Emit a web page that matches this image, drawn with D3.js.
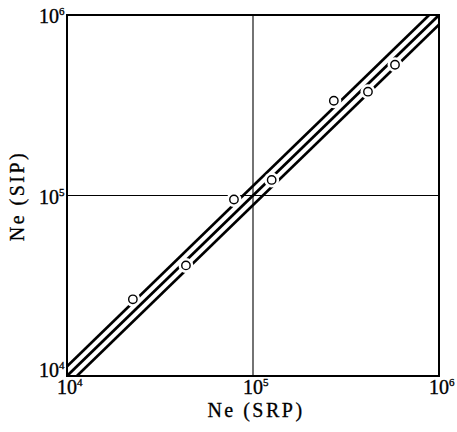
<!DOCTYPE html>
<html><head><meta charset="utf-8">
<script src="https://cdn.jsdelivr.net/npm/d3@7"></script>
<style>body{margin:0;background:#fff}svg{display:block}text{font-family:"Liberation Serif","Times New Roman",serif;fill:#000}</style>
</head><body>
<script>
// Data
const srp = [22600, 43600, 79000, 126000, 272000, 415000, 580000];
const sip = [26600, 41000, 95000, 122000, 335000, 376000, 530000];
const bandFactors = [1.13, 1, 1/1.13];
const tickValues = [1e4, 1e5, 1e6];
const tickExps = ["4", "5", "6"];
const xLabel = "Ne (SRP)";
const yLabel = "Ne (SIP)";

const W = 457, H = 432;
const m = {left: 67, right: 18, top: 15, bottom: 56};
const svg = d3.select("body").append("svg").attr("width", W).attr("height", H);
const x = d3.scaleLog().domain([1e4, 1e6]).range([m.left, W - m.right]);
const y = d3.scaleLog().domain([1e4, 1e6]).range([H - m.bottom, m.top]);

svg.append("clipPath").attr("id", "clip").append("rect")
  .attr("x", m.left).attr("y", m.top).attr("width", x.range()[1] - m.left).attr("height", y.range()[0] - m.top);

const g = svg.append("g");
// gridlines at 1e5
g.append("line").attr("x1", x(1e5)).attr("x2", x(1e5)).attr("y1", y(1e4)).attr("y2", y(1e6)).attr("stroke", "#000").attr("stroke-width", 1.1);
g.append("line").attr("x1", x(1e4)).attr("x2", x(1e6)).attr("y1", y(1e5)).attr("y2", y(1e5)).attr("stroke", "#000").attr("stroke-width", 1.1);

// band lines
const line = d3.line().x(d => x(d[0])).y(d => y(d[1]));
const lg = g.append("g").attr("clip-path", "url(#clip)");
bandFactors.forEach(f => {
  lg.append("path").datum([[5e3, 5e3 * f], [2e6, 2e6 * f]])
    .attr("d", line).attr("fill", "none").attr("stroke", "#000").attr("stroke-width", 2.7);
});

// halos + points
const pts = srp.map((v, i) => [v, sip[i]]);
g.selectAll(".halo").data(pts).join("circle").attr("class", "halo")
  .attr("cx", d => x(d[0])).attr("cy", d => y(d[1])).attr("r", 7.5).attr("fill", "#fff");
g.selectAll(".pt").data(pts).join("circle").attr("class", "pt")
  .attr("cx", d => x(d[0])).attr("cy", d => y(d[1])).attr("r", 4.2)
  .attr("fill", "#fff").attr("stroke", "#000").attr("stroke-width", 1.4);

// frame
svg.append("rect").attr("x", m.left).attr("y", m.top).attr("width", x.range()[1] - m.left).attr("height", y.range()[0] - m.top)
  .attr("fill", "none").attr("stroke", "#000").attr("stroke-width", 2);

// tick labels
function powLabel(sel, exp) {
  sel.attr("stroke", "#000").attr("stroke-width", 0.35);
  sel.append("tspan").text("10").style("font-size", "20px");
  sel.append("tspan").text(exp).style("font-size", "11px").attr("dy", -8);
}
tickValues.forEach((v, i) => {
  const t = svg.append("text").attr("x", x(v) - 10).attr("y", H - m.bottom + 18);
  powLabel(t, tickExps[i]);
});
tickValues.forEach((v, i) => {
  const by = i === 0 ? y(v) + 1 : y(v) + 8;
  const t = svg.append("text").attr("x", m.left - 28).attr("y", by);
  powLabel(t, tickExps[i]);
});

// axis titles
svg.append("text").attr("x", 256).attr("y", 417).attr("text-anchor", "middle")
  .style("font-size", "20px").attr("letter-spacing", 2.5).attr("stroke", "#000").attr("stroke-width", 0.3).text(xLabel);
svg.append("text").attr("transform", `translate(24,${196}) rotate(-90)`).attr("text-anchor", "middle")
  .style("font-size", "20px").attr("letter-spacing", 2.5).attr("stroke", "#000").attr("stroke-width", 0.3).text(yLabel);
</script>
</body></html>
